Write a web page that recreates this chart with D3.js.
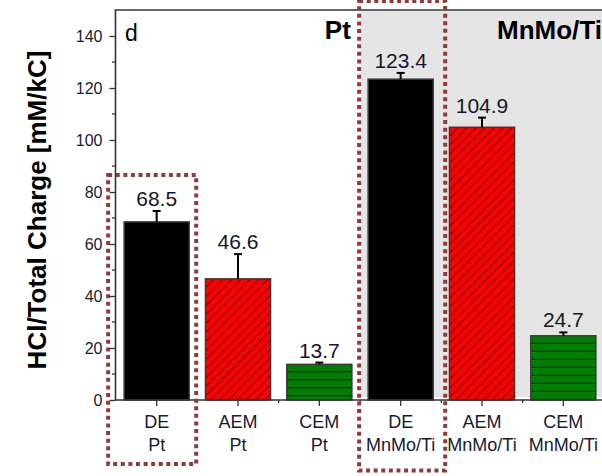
<!DOCTYPE html>
<html>
<head>
<meta charset="utf-8">
<script src="https://cdn.jsdelivr.net/npm/d3@7"></script>
<style>
  html, body { margin: 0; padding: 0; background: #fff; }
  svg { display: block; font-family: "Liberation Sans", Arial, sans-serif; }
</style>
</head>
<body>
<svg id="chart" width="602" height="476"></svg>
<script>
// Membrane type and electrode for each bar
const membranes = ["DE", "AEM", "CEM", "DE", "AEM", "CEM"];
const electrodes = ["Pt", "Pt", "Pt", "MnMo/Ti", "MnMo/Ti", "MnMo/Ti"];
// HCl produced per total charge [mM/kC] and its error
const values = [68.5, 46.6, 13.7, 123.4, 104.9, 24.7];
const errors = [4.2, 9.5, 0.7, 2.4, 3.7, 1.3];
const yTicks = [0, 20, 40, 60, 80, 100, 120, 140];
const yMinorTicks = [10, 30, 50, 70, 90, 110, 130];
const groupTitles = ["Pt", "MnMo/Ti"];
const panelLetter = "d";
const yTitle = "HCl/Total Charge [mM/kC]";

const W = 602, H = 476;
const plotLeft = 116, plotTop = 10, plotBottom = 400, plotRight = 604;

const svg = d3.select("#chart");
const keys = d3.range(values.length);

const x = d3.scaleBand().domain(keys).range([plotLeft, plotRight])
  .paddingInner(0.2).paddingOuter(0.1);
const y = d3.scaleLinear().domain([0, 150]).range([plotBottom, plotTop]);
const bw = x.bandwidth();
const step = x.step();

// Shaded background behind the MnMo/Ti group
const shadeX = x(3) - step * 0.1 + 1;
svg.append("rect")
  .attr("x", shadeX)
  .attr("y", y(150) + 1)
  .attr("width", W - shadeX)
  .attr("height", y(0) - y(150) - 4)
  .attr("fill", "#e5e5e5");

// Fill patterns, one per bar so the hatching starts at the bar top
const defs = svg.append("defs");
keys.forEach(i => {
  const m = membranes[i];
  if (m === "AEM") {
    const s = 9;
    const p = defs.append("pattern")
      .attr("id", "fill" + i)
      .attr("patternUnits", "userSpaceOnUse")
      .attr("width", s).attr("height", s)
      .attr("patternTransform", `translate(${x(i)},${y(values[i])})`);
    p.append("rect").attr("width", s).attr("height", s).attr("fill", "#ff0000");
    p.append("path").attr("d", `M-2,2 L2,-2 M0,${s} L${s},0 M${s - 2},${s + 2} L${s + 2},${s - 2}`)
      .attr("stroke", "#000").attr("stroke-width", 0.8);
  } else if (m === "CEM") {
    const p = defs.append("pattern")
      .attr("id", "fill" + i)
      .attr("patternUnits", "userSpaceOnUse")
      .attr("width", 8).attr("height", 8)
      .attr("patternTransform", `translate(${x(i)},${y(values[i])})`);
    p.append("rect").attr("width", 8).attr("height", 8).attr("fill", "#008000");
    p.append("line").attr("x1", 0).attr("x2", 8).attr("y1", 8).attr("y2", 8)
      .attr("stroke", "#000").attr("stroke-width", 1.7);
  }
});

const fillFor = i => membranes[i] === "DE" ? "#000" : `url(#fill${i})`;

// Bars
svg.append("g").selectAll("rect").data(keys).join("rect")
  .attr("x", i => x(i))
  .attr("y", i => y(values[i]))
  .attr("width", bw)
  .attr("height", i => y(0) - y(values[i]))
  .attr("fill", fillFor)
  .attr("stroke", "#3a3a3a")
  .attr("stroke-width", 1.5);

// Error bars (upper half only)
const eb = svg.append("g").attr("stroke", "#000").attr("stroke-width", 2);
eb.selectAll("line.v").data(keys).join("line").attr("class", "v")
  .attr("x1", i => x(i) + bw / 2).attr("x2", i => x(i) + bw / 2)
  .attr("y1", i => y(values[i])).attr("y2", i => y(values[i] + errors[i]));
eb.selectAll("line.c").data(keys).join("line").attr("class", "c")
  .attr("x1", i => x(i) + bw / 2 - 4).attr("x2", i => x(i) + bw / 2 + 4)
  .attr("y1", i => y(values[i] + errors[i])).attr("y2", i => y(values[i] + errors[i]));

// Value labels
svg.append("g").selectAll("text").data(keys).join("text")
  .attr("x", i => x(i) + bw / 2)
  .attr("y", i => y(values[i] + errors[i]) - 5)
  .attr("text-anchor", "middle")
  .attr("font-size", 21)
  .attr("fill", "#15152a")
  .text(i => values[i].toFixed(1));

// Y axis
const yAxis = svg.append("g").attr("transform", `translate(${plotLeft - 0.5},0)`)
  .call(d3.axisLeft(y).tickValues(yTicks).tickSize(6).tickPadding(7).tickSizeOuter(0));
yAxis.select(".domain").remove();
yAxis.selectAll(".tick line").attr("stroke", "#333").attr("stroke-width", 1.3);
yAxis.selectAll(".tick text").attr("font-size", 16).attr("fill", "#1a1a30")
  .attr("font-family", "Liberation Sans, Arial, sans-serif");
svg.append("g").selectAll("line").data(yMinorTicks).join("line")
  .attr("x1", plotLeft - 0.5).attr("x2", plotLeft - 4)
  .attr("y1", d => y(d)).attr("y2", d => y(d))
  .attr("stroke", "#333").attr("stroke-width", 1.3);

// Frame: left spine, top spine, bottom axis line
svg.append("line").attr("x1", plotLeft - 0.5).attr("x2", plotLeft - 0.5)
  .attr("y1", y(150)).attr("y2", y(0)).attr("stroke", "#333").attr("stroke-width", 1.6);
svg.append("line").attr("x1", plotLeft - 1.3).attr("x2", W)
  .attr("y1", y(150)).attr("y2", y(150)).attr("stroke", "#333").attr("stroke-width", 1.6);
svg.append("line").attr("x1", plotLeft - 1.3).attr("x2", W)
  .attr("y1", y(0)).attr("y2", y(0)).attr("stroke", "#333").attr("stroke-width", 1.6);

// X ticks: major at bar centres, minor at band boundaries
svg.append("g").selectAll("line").data(keys).join("line")
  .attr("x1", i => x(i) + bw / 2).attr("x2", i => x(i) + bw / 2)
  .attr("y1", y(0)).attr("y2", y(0) + 6)
  .attr("stroke", "#333").attr("stroke-width", 1.3);
svg.append("g").selectAll("line").data(keys.slice(1)).join("line")
  .attr("x1", i => x(i) - step * 0.1).attr("x2", i => x(i) - step * 0.1)
  .attr("y1", y(0)).attr("y2", y(0) + 3)
  .attr("stroke", "#333").attr("stroke-width", 1.3);

// X tick labels, two lines each
const xl = svg.append("g").attr("font-size", 18).attr("fill", "#1a1a30")
  .attr("text-anchor", "middle");
xl.selectAll("text.m").data(keys).join("text").attr("class", "m")
  .attr("x", i => x(i) + bw / 2).attr("y", 428).text(i => membranes[i]);
xl.selectAll("text.e").data(keys).join("text").attr("class", "e")
  .attr("x", i => x(i) + bw / 2).attr("y", 451).text(i => electrodes[i]);

// Panel letter and group titles
svg.append("text").attr("x", 125).attr("y", 41).attr("font-size", 23)
  .attr("fill", "#000").text(panelLetter);
svg.append("text").attr("x", x(2) + bw - 1).attr("y", 38.5).attr("text-anchor", "end")
  .attr("font-size", 26).attr("font-weight", "bold").attr("fill", "#000").text(groupTitles[0]);
svg.append("text").attr("x", 497).attr("y", 38.5)
  .attr("font-size", 26).attr("font-weight", "bold").attr("fill", "#000").text(groupTitles[1]);

// Y axis title
svg.append("text")
  .attr("transform", `translate(46,210) rotate(-90)`)
  .attr("text-anchor", "middle")
  .attr("font-size", 26).attr("font-weight", "bold").attr("fill", "#000")
  .text(yTitle);

// Dotted highlight boxes around the DE columns
const boxes = [
  { bar: 0, padL: 16, padR: 7, top: 86.5, bottomY: 464 },
  { bar: 3, padL: 9, padR: 12, top: 153.5, bottomY: 470.5 }
];
svg.append("g").selectAll("rect").data(boxes).join("rect")
  .attr("x", b => x(b.bar) - b.padL)
  .attr("y", b => y(b.top))
  .attr("width", b => bw + b.padL + b.padR)
  .attr("height", b => b.bottomY - y(b.top))
  .attr("fill", "none")
  .attr("stroke", "#913a3a")
  .attr("stroke-width", 4)
  .attr("stroke-dasharray", "4,3.6");
</script>
</body>
</html>
